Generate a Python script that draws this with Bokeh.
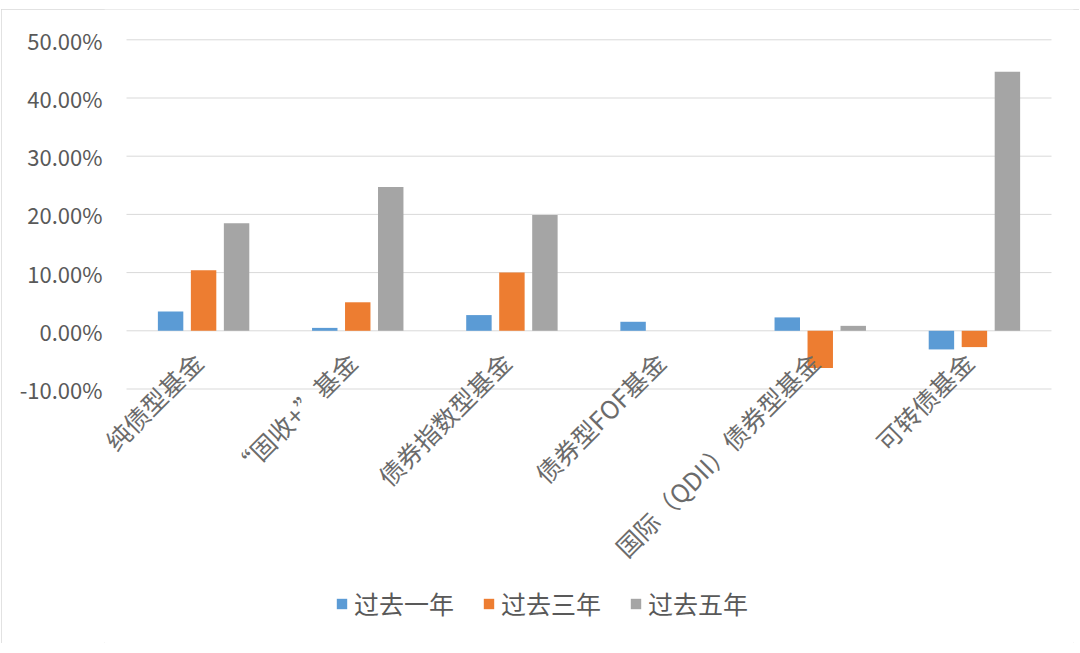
from math import pi
from bokeh.plotting import figure
from bokeh.models import (ColumnDataSource, FactorRange, Range1d, FixedTicker,
                          NumeralTickFormatter, LabelSet, Legend, LegendItem)
from bokeh.transform import dodge
from bokeh.core.properties import value
from bokeh.embed import file_html
from bokeh.resources import INLINE

categories = ["纯债型基金", "“固收+”基金", "债券指数型基金", "债券型FOF基金",
              "国际（QDII）债券型基金", "可转债基金"]
series_names = ["过去一年", "过去三年", "过去五年"]
past_1y = [0.033, 0.005, 0.027, 0.0155, 0.023, -0.032]
past_3y = [0.104, 0.049, 0.100, 0.0, -0.064, -0.028]
past_5y = [0.185, 0.247, 0.199, 0.0, 0.0085, 0.445]
y_ticks = [-0.10, 0.0, 0.10, 0.20, 0.30, 0.40, 0.50]

colors = ["#5B9BD5", "#ED7D31", "#A5A5A5"]
FONT = "Noto Sans CJK SC"
GRID = "#d9d9d9"

# layout (pixels inside the figure)
W, H = 1078, 634
PLOT_LEFT, PLOT_RIGHT = 125, 1050      # extent of the gridlines
TOP_TICK_PX, BOTTOM_TICK_PX = 30.3, 379.5
FRAME_LEFT = 103
unit_px = (PLOT_RIGHT - PLOT_LEFT) / len(categories)
pad_px = PLOT_LEFT - FRAME_LEFT
pad_units = pad_px / unit_px
px_per_y = (BOTTOM_TICK_PX - TOP_TICK_PX) / (y_ticks[-1] - y_ticks[0])
y_end = y_ticks[-1] + TOP_TICK_PX / px_per_y
y_start = y_ticks[0] - (H - BOTTOM_TICK_PX) / px_per_y

source = ColumnDataSource(dict(cat=categories, s1=past_1y, s2=past_3y, s3=past_5y,
                               zero=[0.0] * len(categories)))
grid_src = ColumnDataSource(dict(y=y_ticks, x0=[0] * len(y_ticks),
                                 x1=[len(categories)] * len(y_ticks)))

p = figure(width=W, height=H, output_backend="svg", toolbar_location=None,
           x_range=FactorRange(factors=categories, range_padding=pad_units,
                               range_padding_units="absolute"),
           y_range=Range1d(y_start, y_end),
           min_border_left=FRAME_LEFT, min_border_right=W - PLOT_RIGHT - pad_px,
           min_border_top=0, min_border_bottom=0)

p.outline_line_color = None
p.background_fill_color = "white"
p.border_fill_color = "white"
p.styles = {"margin-top": "9px", "margin-left": "1px",
            "outline": "1px solid #d9d9d9", "outline-offset": "-1px"}

# horizontal gridlines limited to the category area
p.segment(x0="x0", x1="x1", y0="y", y1="y", source=grid_src,
          line_color=GRID, line_width=1)

offsets = [-0.214, 0.0, 0.214]
renderers = []
for key, off, col in zip(["s1", "s2", "s3"], offsets, colors):
    r = p.vbar(x=dodge("cat", off, range=p.x_range), top=key, bottom=0, width=0.165,
               source=source, fill_color=col, line_color=None)
    renderers.append(r)

p.xaxis.visible = False
p.xgrid.grid_line_color = None
p.ygrid.grid_line_color = None

yax = p.yaxis[0]
yax.ticker = FixedTicker(ticks=y_ticks)
yax.formatter = NumeralTickFormatter(format="0.00%")
yax.axis_line_color = None
yax.major_tick_line_color = None
yax.minor_tick_line_color = None
yax.major_tick_out = 0
yax.major_tick_in = 0
yax.major_label_standoff = 2
yax.major_label_text_font = FONT
yax.major_label_text_font_size = "22px"
yax.major_label_text_color = "#595959"

labels = LabelSet(x="cat", y="zero", text="cat", source=source,
                  angle=pi / 4, text_align="right", text_baseline="middle",
                  x_offset=-6, y_offset=-26,
                  text_font=value(FONT), text_font_size="25px", text_color="#6b6b6b")
p.add_layout(labels)

legend = Legend(items=[LegendItem(label=n, renderers=[r]) for n, r in zip(series_names, renderers)],
                orientation="horizontal", location=(231, 22),
                glyph_width=13, glyph_height=13, label_standoff=6, spacing=28,
                padding=0, margin=0, border_line_color=None, background_fill_alpha=0,
                label_text_font=FONT, label_text_font_size="25px", label_text_color="#595959")
p.add_layout(legend, "center")

open("out.html", "w").write(file_html(p, INLINE))
